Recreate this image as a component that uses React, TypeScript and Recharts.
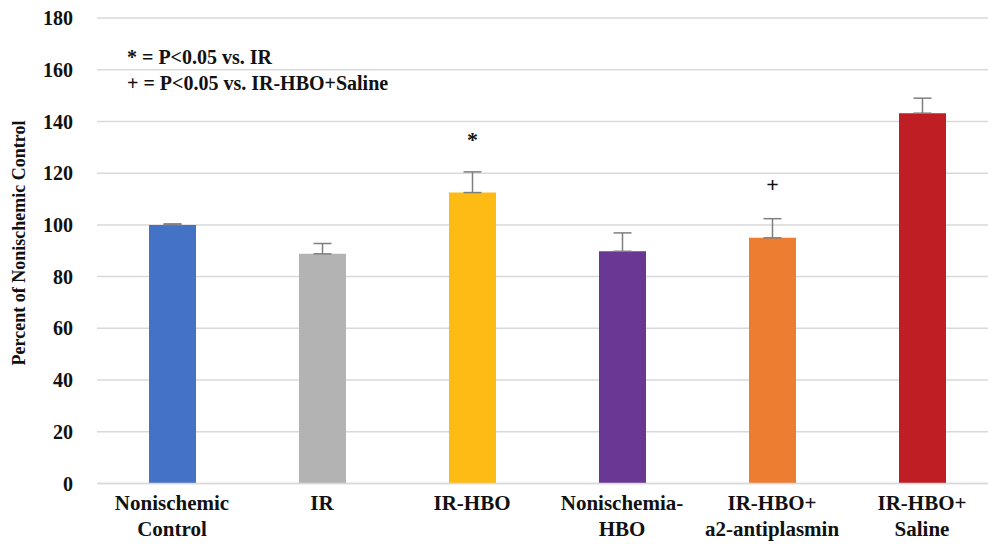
import { BarChart, Bar, XAxis, YAxis, CartesianGrid, Cell, ErrorBar, LabelList } from "recharts";

const groups = [
  "Nonischemic\nControl",
  "IR",
  "IR-HBO",
  "Nonischemia-\nHBO",
  "IR-HBO+\na2-antiplasmin",
  "IR-HBO+\nSaline",
];
const percentOfControl = [100, 88.8, 112.5, 89.8, 95.0, 143.2];
const sem = [0.4, 4.0, 8.0, 7.1, 7.4, 5.8];
const significance = ["", "", "*", "", "+", ""];
const barColors = ["#4472c4", "#b3b3b3", "#fdbb13", "#6b3794", "#ed7d31", "#bf1e24"];
const yTicks = [0, 20, 40, 60, 80, 100, 120, 140, 160, 180];
const notes = ["* = P<0.05 vs. IR", "+ = P<0.05 vs. IR-HBO+Saline"];

// Times-metric serif for all chart text
const FONT = "'Liberation Serif', 'Times New Roman', serif";

const data = groups.map((name, i) => ({
  name,
  value: percentOfControl[i],
  err: [0, sem[i]],
  sig: significance[i],
}));

const GroupTick = (props: any) => {
  const { x, y, payload } = props;
  const lines = String(payload.value).split("\n");
  return (
    <text x={x} y={y} textAnchor="middle" style={{ fontFamily: FONT, fontWeight: 700, fontSize: 21 }} fill="#111">
      {lines.map((line, i) => (
        <tspan key={i} x={x} dy={i === 0 ? 18 : 26}>
          {line}
        </tspan>
      ))}
    </text>
  );
};

const SigMark = (props: any) => {
  const { x, y, width, value } = props;
  if (!value) return null;
  return (
    <text x={x + width / 2} y={y - 46} textAnchor="middle" style={{ fontFamily: FONT, fontWeight: 700, fontSize: 22 }} fill="#111">
      {value}
    </text>
  );
};

export default function App() {
  return (
    <div style={{ position: "absolute", left: 0, top: 0, width: 988, height: 544, overflow: "hidden", background: "#fff", fontFamily: FONT }}>
      <BarChart
        width={1000}
        height={544}
        data={data}
        margin={{ top: 18, right: 3, bottom: 0, left: 0 }}
        barSize={47}
      >
        <CartesianGrid vertical={false} stroke="#d9d9d9" strokeWidth={1.5} />
        <XAxis
          dataKey="name"
          height={60.5}
          axisLine={{ stroke: "#d9d9d9", strokeWidth: 1.5 }}
          tickLine={false}
          tick={<GroupTick />}
          interval={0}
        />
        <YAxis
          width={97}
          domain={[0, 180]}
          ticks={yTicks}
          axisLine={false}
          tickLine={false}
          tickMargin={18}
          tick={{ style: { fontFamily: FONT, fontWeight: 700, fontSize: 20 }, fill: "#111" }}
        />
        <Bar dataKey="value" isAnimationActive={false}>
          {data.map((d, i) => (
            <Cell key={d.name} fill={barColors[i]} />
          ))}
          <ErrorBar dataKey="err" width={9} stroke="#7f7f7f" strokeWidth={1.5} />
          <LabelList dataKey="sig" content={<SigMark />} />
        </Bar>
      </BarChart>
      <div
        style={{
          position: "absolute",
          left: 19,
          top: 243,
          transform: "translate(-50%, -50%) rotate(-90deg)",
          whiteSpace: "nowrap",
          fontWeight: 700,
          fontSize: 18,
          color: "#111",
        }}
      >
        Percent of Nonischemic Control
      </div>
      <div
        style={{
          position: "absolute",
          left: 127,
          top: 44,
          fontWeight: 700,
          fontSize: 20,
          lineHeight: "26px",
          color: "#111",
        }}
      >
        {notes.map((n) => (
          <div key={n}>{n}</div>
        ))}
      </div>
    </div>
  );
}
